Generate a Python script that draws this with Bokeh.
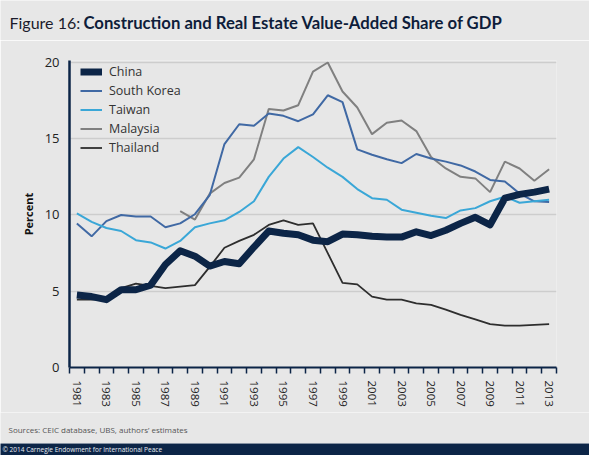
from bokeh.plotting import figure
from bokeh.models import FixedTicker, Legend, LegendItem, Label, Range1d
from bokeh.layouts import column, row
from bokeh.embed import file_html
from bokeh.resources import INLINE

# ---- data ----
years = list(range(1981, 2014))
china = [4.75, 4.65, 4.45, 5.1, 5.1, 5.4, 6.75, 7.65, 7.3, 6.65, 6.95, 6.8, 7.9, 8.95, 8.8,
         8.7, 8.35, 8.25, 8.75, 8.7, 8.6, 8.55, 8.55, 8.9, 8.65, 9.0, 9.45, 9.85, 9.35,
         11.1, 11.35, 11.5, 11.7]
south_korea = [9.45, 8.6, 9.6, 10.0, 9.9, 9.9, 9.2, 9.45, 10.05, 11.3, 14.65, 15.95, 15.85,
               16.65, 16.5, 16.15, 16.6, 17.85, 17.4, 14.3, 13.95, 13.65, 13.4, 14.0, 13.7,
               13.5, 13.25, 12.85, 12.3, 12.2, 11.4, 10.9, 10.85]
taiwan = [10.1, 9.55, 9.15, 8.95, 8.35, 8.2, 7.8, 8.3, 9.2, 9.45, 9.65, 10.2, 10.9, 12.5,
          13.7, 14.45, 13.8, 13.1, 12.5, 11.7, 11.1, 11.0, 10.35, 10.15, 9.95, 9.8, 10.3,
          10.45, 10.9, 11.2, 10.8, 10.9, 11.0]
malaysia_years = list(range(1988, 2014))
malaysia = [10.25, 9.7, 11.4, 12.1, 12.45, 13.65, 16.95, 16.85, 17.2, 19.4, 20.0, 18.1,
            17.05, 15.3, 16.05, 16.2, 15.5, 13.8, 13.05, 12.5, 12.4, 11.5, 13.5, 13.05,
            12.25, 13.0]
thailand = [4.45, 4.45, 4.5, 5.2, 5.5, 5.35, 5.2, 5.3, 5.4, 6.6, 7.85, 8.3, 8.7, 9.35, 9.65,
            9.35, 9.45, 7.5, 5.55, 5.45, 4.65, 4.45, 4.45, 4.2, 4.1, 3.8, 3.45, 3.15, 2.85,
            2.75, 2.75, 2.8, 2.85]
label_years = list(range(1981, 2014, 2))
y_ticks = [0, 5, 10, 15, 20]

BG = "#e7e7e7"
NAVY = "#0c2547"
FONT = "Open Sans"
TFONT = "Lato"

W = 589
HEAD_H, MAIN_H, SRC_H, FOOT_H = 40, 372, 31, 12
L, R, T, B = 69, 33, 20, 45
FH = MAIN_H - T - B


def strip(height, color):
    f = figure(width=W, height=height, output_backend="svg", toolbar_location=None,
               x_axis_type=None, y_axis_type=None, min_border=0,
               min_border_left=0, min_border_right=0, min_border_top=0, min_border_bottom=0,
               x_range=Range1d(0, 1), y_range=Range1d(0, 1),
               background_fill_color=color, border_fill_color=color,
               outline_line_color=None)
    f.xgrid.grid_line_color = None
    f.ygrid.grid_line_color = None
    return f


# ---- header ----
head = strip(HEAD_H, BG)
head.add_layout(Label(x=9, y=HEAD_H - 22, x_units="screen", y_units="screen",
                      text="Figure 16:", text_font=TFONT, text_font_size="16px",
                      text_color="#1b1b2b", text_baseline="alphabetic"))
head.add_layout(Label(x=83, y=HEAD_H - 22, x_units="screen", y_units="screen",
                      text="Construction and Real Estate Value-Added Share of GDP",
                      text_font=TFONT, text_font_style="bold",
                      text_font_size="16.7px", text_color="#0e1d3a",
                      text_baseline="alphabetic"))

# ---- main chart ----
p = figure(width=W, height=MAIN_H, output_backend="svg", toolbar_location=None,
           x_range=Range1d(1980.5, 2013.5), y_range=Range1d(0, 20.13),
           min_border_left=L, min_border_right=R, min_border_top=T, min_border_bottom=B,
           background_fill_color=BG, border_fill_color=BG, outline_line_color=None)

r_th = p.line(years, thailand, line_color="#2e2e2e", line_width=1.8)
r_my = p.line(malaysia_years, malaysia, line_color="#808080", line_width=2)
r_sk = p.line(years, south_korea, line_color="#4069a4", line_width=2)
r_tw = p.line(years, taiwan, line_color="#3aa7d7", line_width=2)
r_cn = p.line(years, china, line_color=NAVY, line_width=7, line_join="round")

p.xaxis.ticker = FixedTicker(ticks=label_years,
                             minor_ticks=[y - 0.5 for y in years] + [2013.5])
p.xaxis.major_tick_line_color = None
p.xaxis.major_tick_in = 0
p.xaxis.major_tick_out = 0
p.xaxis.minor_tick_in = 0
p.xaxis.minor_tick_out = 6
p.xaxis.minor_tick_line_color = NAVY
p.xaxis.minor_tick_line_width = 1.5
p.xaxis.axis_line_color = NAVY
p.xaxis.axis_line_width = 2
p.xaxis.major_label_orientation = "vertical"
p.xaxis.major_label_standoff = 7
p.xaxis.major_label_text_font = FONT
p.xaxis.major_label_text_font_size = "11.5px"
p.xaxis.major_label_text_color = "#222222"

p.yaxis.ticker = FixedTicker(ticks=y_ticks)
p.yaxis.major_tick_line_color = None
p.yaxis.minor_tick_line_color = None
p.yaxis.major_tick_in = 0
p.yaxis.major_tick_out = 0
p.yaxis.axis_line_color = NAVY
p.yaxis.axis_line_width = 2.5
p.yaxis.major_label_standoff = 10
p.yaxis.major_label_text_font = FONT
p.yaxis.major_label_text_font_size = "13px"
p.yaxis.major_label_text_color = "#222222"
p.yaxis.axis_label = "Percent"
p.yaxis.axis_label_text_font = FONT
p.yaxis.axis_label_text_font_style = "bold"
p.yaxis.axis_label_text_font_size = "11px"
p.yaxis.axis_label_text_color = "#111111"
p.yaxis.axis_label_standoff = 6

p.xgrid.grid_line_color = None
p.ygrid.ticker = FixedTicker(ticks=y_ticks)
p.ygrid.grid_line_color = "#cdcdcd"
p.ygrid.grid_line_width = 1.5

legend = Legend(items=[
    LegendItem(label="China", renderers=[r_cn]),
    LegendItem(label="South Korea", renderers=[r_sk]),
    LegendItem(label="Taiwan", renderers=[r_tw]),
    LegendItem(label="Malaysia", renderers=[r_my]),
    LegendItem(label="Thailand", renderers=[r_th]),
], location=(11, FH - 1.5 - 95))
legend.border_line_color = None
legend.background_fill_alpha = 0
legend.padding = 0
legend.margin = 0
legend.spacing = 0
legend.label_height = 19
legend.glyph_height = 19
legend.glyph_width = 22
legend.label_standoff = 7
legend.label_text_font = FONT
legend.label_text_font_size = "12.5px"
legend.label_text_color = "#333333"
p.add_layout(legend)

# ---- sources ----
src = strip(SRC_H, BG)
src.add_layout(Label(x=8, y=SRC_H - 17, x_units="screen", y_units="screen",
                     text="Sources: CEIC database, UBS, authors\u2019 estimates",
                     text_font=FONT, text_font_size="8px",
                     text_color="#555555", text_baseline="middle"))

# ---- footer ----
foot = strip(FOOT_H, NAVY)
foot.add_layout(Label(x=2, y=6, x_units="screen", y_units="screen",
                      text="\u00a9 2014 Carnegie Endowment for International Peace",
                      text_font=FONT, text_font_size="6.5px",
                      text_color="#e8ecf2", text_baseline="middle"))

layout = column(head, row(p, spacing=0), src, foot, spacing=0)
open("out.html", "w").write(file_html(layout, INLINE))
